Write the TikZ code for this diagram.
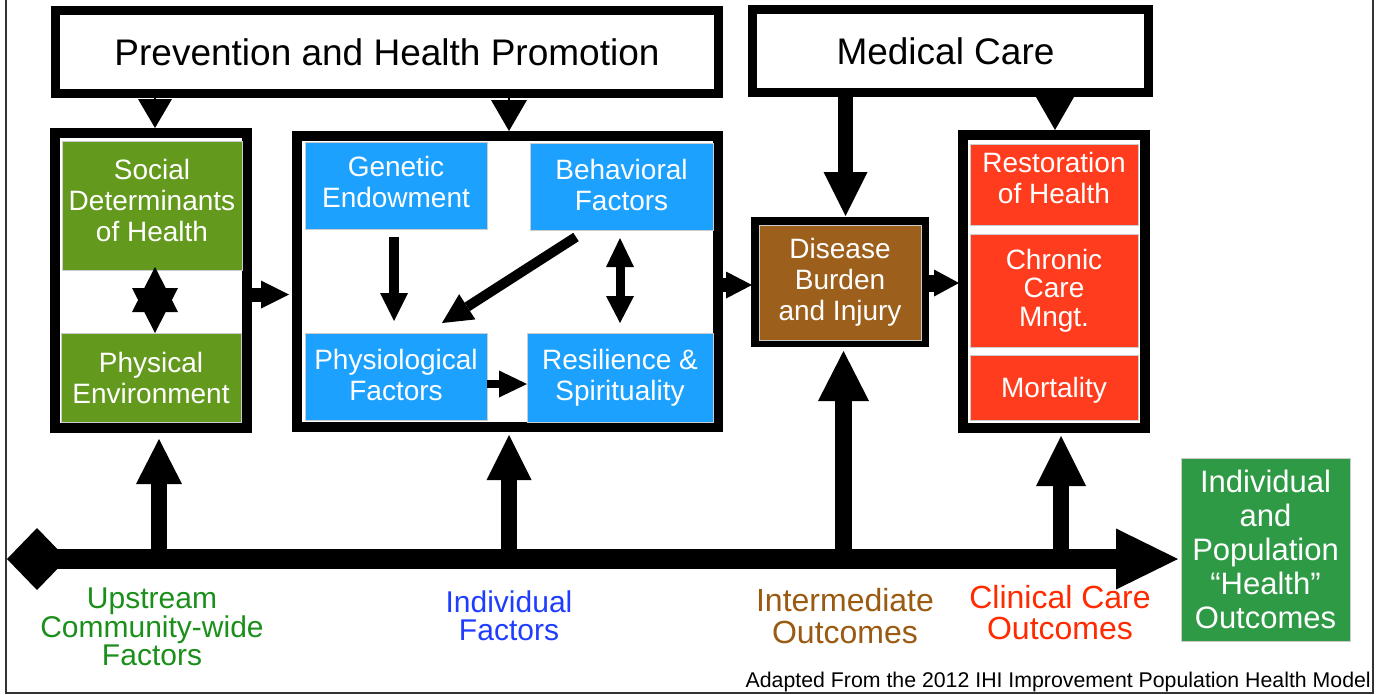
\documentclass[tikz,border=0pt]{standalone}
\usepackage{fontspec}
\setmainfont{Liberation Sans}
\usetikzlibrary{arrows.meta,calc}
\definecolor{sgreen}{HTML}{63991C}
\definecolor{sblue}{HTML}{1DA1FF}
\definecolor{sbrown}{HTML}{9C601C}
\definecolor{sred}{HTML}{FF3D1E}
\definecolor{ogreen}{HTML}{2F9A45}
\definecolor{upgreen}{HTML}{1A8F1A}
\definecolor{indblue}{HTML}{1F3DFF}
\definecolor{intbrown}{HTML}{9A5A12}
\definecolor{clinred}{HTML}{FF2A00}
\begin{document}
\begin{tikzpicture}[x=1pt,y=-1pt,
  frame/.style={draw=black!80, line width=2pt},
  hdr/.style={draw=black, line width=9pt, fill=white, outer sep=0pt, inner sep=0pt, font=\fontsize{37}{40}\selectfont},
  grp/.style={draw=black, line width=#1, fill=white, outer sep=0pt, inner sep=0pt},
  cbox/.style={fill=#1, draw=white!80!black, line width=1pt, text=white, align=center, inner sep=0pt, outer sep=0pt, font=\fontsize{28}{31}\selectfont},
  lbl/.style={align=center, text=#1, inner sep=0pt, outer sep=0pt},
  arr/.style args={#1/#2/#3}{draw=black, line width=#1, -{Triangle[line width=0pt,length=#2,width=#3]}},
]
\useasboundingbox (0,0) rectangle (1380,694);
\draw[frame] (6,0) -- (6,692.5) -- (1372.5,692.5) -- (1372.5,0);

% header boxes
\node[hdr, minimum width=663pt, minimum height=83pt] (prev) at (387,52) {Prevention and Health Promotion};
\node[hdr, minimum width=396pt, minimum height=83pt] (med) at (950.5,51) {Medical Care\hspace*{10pt}};

% group frames
\node[grp=10pt, minimum width=192pt, minimum height=295pt] (sdbox) at (151,280.5) {};
\node[grp=10pt, minimum width=421pt, minimum height=291pt] (indbox) at (507.5,281.5) {};
\node[grp=8pt, minimum width=170pt, minimum height=122pt] (disbox) at (840,282) {};
\node[grp=10pt, minimum width=182pt, minimum height=293pt] (clinbox) at (1054,281.5) {};

% coloured boxes
\node[cbox=sgreen, minimum width=180pt, minimum height=129pt, text depth=10pt] (social) at (152,205.5) {Social\\Determinants\\of Health};
\node[cbox=sgreen, minimum width=180pt, minimum height=89pt] (phys) at (151,377.5) {Physical\\Environment};
\node[cbox=sblue, minimum width=182pt, minimum height=87pt, text depth=7pt] (gen) at (396,185.5) {Genetic\\Endowment};
\node[cbox=sblue, minimum width=183pt, minimum height=87pt, text depth=3pt] (behav) at (621.5,186.5) {Behavioral\\Factors};
\node[cbox=sblue, minimum width=182pt, minimum height=87pt, text depth=4pt] (physio) at (396,376.5) {Physiological\\Factors};
\node[cbox=sblue, minimum width=186pt, minimum height=89pt] (resil) at (620,377.5) {Resilience \&\\Spirituality};
\node[cbox=sbrown, minimum width=162pt, minimum height=115pt] (disease) at (840,282.5) {Disease\\Burden\\and Injury};
\node[cbox=sred, minimum width=168pt, minimum height=81pt, text depth=14pt] (restor) at (1054,184.5) {Restoration\\of Health};
\node[cbox=sred, minimum width=168pt, minimum height=113pt, font=\fontsize{28}{28.5}\selectfont] (chronic) at (1054,290.5) {Chronic\\Care\\Mngt.};
\node[cbox=sred, minimum width=168pt, minimum height=65pt, text depth=0pt] (mort) at (1054,387.5) {Mortality};
\node[cbox=ogreen, minimum width=169pt, minimum height=183pt, font=\fontsize{31}{34}\selectfont] (outcome) at (1265.5,549.5) {Individual\\and\\Population\\“Health”\\Outcomes};

% axis
\coordinate (ax0) at (7,559);
\draw[draw=black, line width=20pt, {Diamond[line width=0pt,length=60pt,width=62pt]}-{Triangle[line width=0pt,length=62pt,width=61pt]}] (ax0) -- ($(outcome.west)+(-3,9.5)$);

% upward arrows from axis
\coordinate (a1) at (159,559);
\coordinate (a2) at (509,559);
\coordinate (a3) at (843.5,559);
\coordinate (a4) at (1061,559);
\draw[arr=16pt/45pt/46pt] (a1) -- ($(sdbox.south)+(8,11)$);
\draw[arr=16pt/45pt/45pt] (a2) -- ($(indbox.south)+(1.5,8)$);
\draw[arr=17pt/50pt/51pt] (a3) -- ($(disbox.south)+(3.5,8)$);
\draw[arr=16pt/50pt/50pt] (a4) -- ($(clinbox.south)+(7,8)$);

% from header boxes
\draw[arr=15pt/44pt/44pt] ($(disbox.north |- med.south)+(5.5,0)$) -- ($(disbox.north)+(5.5,-5)$);
\draw[arr=2pt/33pt/38pt] ($(clinbox.north |- med.south)+(1,0)$) -- ($(clinbox.north)+(1,-5)$);
\draw[arr=2pt/29pt/34pt] ($(sdbox.north |- prev.south)+(4,0)$) -- ($(sdbox.north)+(4,-5)$);
\draw[arr=2pt/31pt/36pt] ($(indbox.north |- prev.south)+(1.5,0)$) -- ($(indbox.north)+(1.5,-5)$);

% horizontal flow
\draw[arr=14pt/28pt/28pt] ($(sdbox.east)+(0,14)$) -- ($(indbox.west)+(-8,13)$);
\draw[arr=14pt/26pt/27pt] ($(indbox.east)+(0,3.5)$) -- ($(disbox.west)+(-3,3)$);
\draw[arr=17pt/25pt/27pt] ($(disbox.east)+(0,1)$) -- ($(clinbox.west)+(-4,1.5)$);

% inside individual box
\draw[arr=10pt/28pt/28pt] ($(gen.south)+(-2,8)$) -- ($(physio.north)+(-2,-12)$);
\draw[arr=10pt/30pt/30pt] ($(behav.south)+(-45.5,7)$) -- ($(physio.north)+(46,-10)$);
\draw[draw=black, line width=9pt, {Triangle[line width=0pt,length=29pt,width=28pt]}-{Triangle[line width=0pt,length=27pt,width=28pt]}] ($(behav.south)+(-1.5,8)$) -- ($(resil.north)+(0,-10)$);
\draw[arr=8pt/28pt/27pt] ($(physio.east)+(0,7.5)$) -- ($(resil.west)+(0,6.5)$);

% star between social and physical
\draw[arr=1pt/45pt/46pt] ($(social.south)+(3,44)$) -- ($(social.south)+(3,-3)$);
\draw[arr=1pt/45pt/46pt] ($(phys.north)+(4,-47)$) -- ($(phys.north)+(4,0)$);

% bottom labels
\node[lbl=upgreen, font=\fontsize{30}{28.5}\selectfont] (upl) at (152,627) {Upstream\\Community-wide\\Factors};
\node[lbl=indblue, font=\fontsize{30}{28.5}\selectfont] (indl) at (509,616) {Individual\\Factors};
\node[lbl=intbrown, font=\fontsize{32}{32}\selectfont] (intl) at (845,616) {Intermediate\\Outcomes};
\node[lbl=clinred, font=\fontsize{32}{31}\selectfont] (clinl) at (1060,612.5) {Clinical Care\\Outcomes};
\node[anchor=base east, inner sep=0pt, font=\fontsize{21.3}{24}\selectfont] (src) at (1371,687) {Adapted From the 2012 IHI Improvement Population Health Model};
\end{tikzpicture}
\end{document}
